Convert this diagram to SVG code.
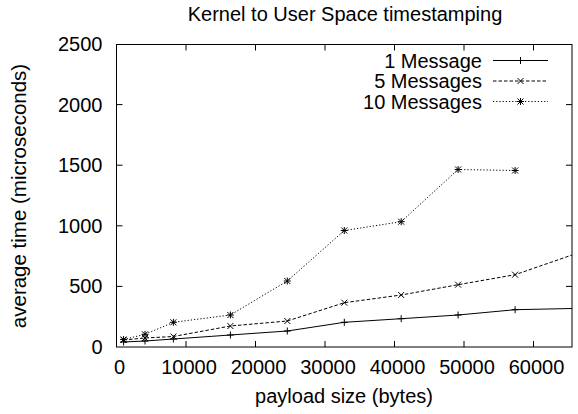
<svg xmlns="http://www.w3.org/2000/svg" xmlns:xlink="http://www.w3.org/1999/xlink" width="578" height="414" viewBox="0 0 578 414">
<style>
text{font-family:"Liberation Sans",Arial,sans-serif;font-size:20px;fill:#000}
.yl{text-anchor:end}
.xl{text-anchor:middle}
.frame{fill:none;stroke:#000;stroke-width:1}
.tick{stroke:#000;stroke-width:1}
.s1{fill:none;stroke:#000;stroke-width:1}
.s2{fill:none;stroke:#000;stroke-width:1;stroke-dasharray:3.5 2}
.s3{fill:none;stroke:#000;stroke-width:1;stroke-dasharray:1.2 2}
.m{fill:none;stroke:#000;stroke-width:1}
</style>
<defs>
<path id="plus" class="m" d="M-3.5 0H3.5M0 -3.5V3.5"/>
<path id="cross" class="m" d="M-3 -3L3 3M-3 3L3 -3"/>
<path id="star" class="m" d="M-3.5 0H3.5M0 -3.5V3.5M-3 -3L3 3M-3 3L3 -3"/>
</defs>
<rect width="578" height="414" fill="#fff"/>
<text id="title" x="345" y="21" class="xl">Kernel to User Space timestamping</text>
<g id="axes">
<rect class="frame" x="116.5" y="44.5" width="455.5" height="302.5"/>
<g class="tick">
<path d="M116.5 286.4h6M116.5 225.8h6M116.5 165.2h6M116.5 104.6h6M572 286.4h-6M572 225.8h-6M572 165.2h-6M572 104.6h-6"/>
<path d="M186 347v-6M255.5 347v-6M325 347v-6M394.5 347v-6M464 347v-6M533.5 347v-6M186 44.5v6M255.5 44.5v6M325 44.5v6M394.5 44.5v6M464 44.5v6M533.5 44.5v6"/>
</g>
<g class="ytl">
<text class="yl" x="102.5" y="354">0</text>
<text class="yl" x="102.5" y="293.4">500</text>
<text class="yl" x="102.5" y="232.8">1000</text>
<text class="yl" x="102.5" y="172.2">1500</text>
<text class="yl" x="102.5" y="111.6">2000</text>
<text class="yl" x="102.5" y="51">2500</text>
</g>
<g class="xtl">
<text class="xl" x="119.5" y="373.5">0</text>
<text class="xl" x="189" y="373.5">10000</text>
<text class="xl" x="258.5" y="373.5">20000</text>
<text class="xl" x="328" y="373.5">30000</text>
<text class="xl" x="397.5" y="373.5">40000</text>
<text class="xl" x="467" y="373.5">50000</text>
<text class="xl" x="536.5" y="373.5">60000</text>
</g>
<text id="xlabel" class="xl" x="344" y="403">payload size (bytes)</text>
<text id="ylabel" class="xl" transform="translate(26,196) rotate(-90)" style="font-size:20.5px">average time (microseconds)</text>
</g>
<g id="connectors">
<polyline id="line1" class="s1" points="123.6,342 145,341 173.4,339 230.4,335 287.3,331 344.3,322.3 401.2,318.7 458.1,315 515.1,309.7 572,308.5"/>
<polyline id="line5" class="s2" points="123.6,340 145,338 173.4,336.5 230.4,326 287.3,321 344.3,302.7 401.2,295 458.1,284.7 515.1,274.7 572,255"/>
<polyline id="line10" class="s3" points="123.6,339.5 145,334.3 173.4,322.3 230.4,315 287.3,281 344.3,230.5 401.2,221.7 458.1,169.5 515.1,170.5"/>
</g>
<g id="series1">
<use xlink:href="#plus" x="123.6" y="342"/><use xlink:href="#plus" x="145" y="341"/><use xlink:href="#plus" x="173.4" y="339"/><use xlink:href="#plus" x="230.4" y="335"/><use xlink:href="#plus" x="287.3" y="331"/><use xlink:href="#plus" x="344.3" y="322.3"/><use xlink:href="#plus" x="401.2" y="318.7"/><use xlink:href="#plus" x="458.1" y="315"/><use xlink:href="#plus" x="515.1" y="309.7"/>
</g>
<g id="series5">
<use xlink:href="#cross" x="123.6" y="340"/><use xlink:href="#cross" x="145" y="338"/><use xlink:href="#cross" x="173.4" y="336.5"/><use xlink:href="#cross" x="230.4" y="326"/><use xlink:href="#cross" x="287.3" y="321"/><use xlink:href="#cross" x="344.3" y="302.7"/><use xlink:href="#cross" x="401.2" y="295"/><use xlink:href="#cross" x="458.1" y="284.7"/><use xlink:href="#cross" x="515.1" y="274.7"/>
</g>
<g id="series10">
<use xlink:href="#star" x="123.6" y="339.5"/><use xlink:href="#star" x="145" y="334.3"/><use xlink:href="#star" x="173.4" y="322.3"/><use xlink:href="#star" x="230.4" y="315"/><use xlink:href="#star" x="287.3" y="281"/><use xlink:href="#star" x="344.3" y="230.5"/><use xlink:href="#star" x="401.2" y="221.7"/><use xlink:href="#star" x="458.1" y="169.5"/><use xlink:href="#star" x="515.1" y="170.5"/>
</g>
<g id="legend">
<text class="yl" x="482" y="67.5">1 Message</text>
<text class="yl" x="482" y="88">5 Messages</text>
<text class="yl" x="482" y="108.5">10 Messages</text>
<path class="s1" d="M493 60.5H548"/>
<path class="s2" d="M493 81H548"/>
<path class="s3" d="M493 101.5H548"/>
<use xlink:href="#plus" x="520.5" y="60.5"/>
<use xlink:href="#cross" x="520.5" y="81"/>
<use xlink:href="#star" x="520.5" y="101.5"/>
</g>
</svg>
